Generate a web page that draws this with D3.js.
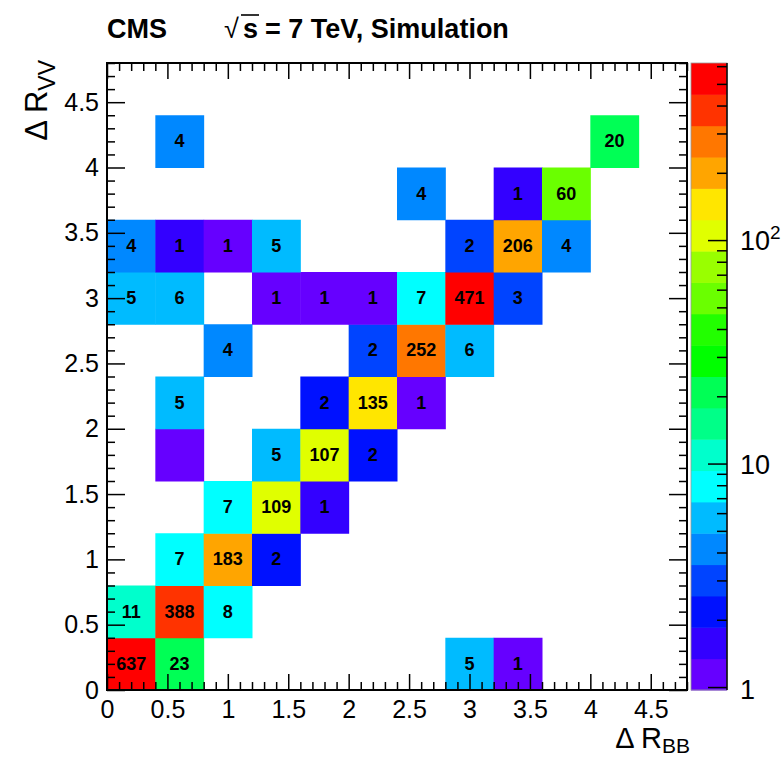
<!DOCTYPE html>
<html lang="en">
<head>
    <meta charset="UTF-8">
    <title>CMS Delta R VV vs Delta R BB</title>
    <script src="https://d3js.org/d3.v7.min.js"></script>
    <style>
        body { margin: 0; background: #fff; }
        svg { display: block; font-family: "Liberation Sans", Arial, Helvetica, sans-serif; }
        .tick line { stroke: #000; stroke-width: 1.5; }
    </style>
</head>
<body>
    <div id="chart"></div>

    <script>
        // bin lower edges (x = Delta R_BB, y = Delta R_VV) and bin contents
        const binWidth = 0.4;
        const cellX = [0, 0.4, 2.8, 3.2,
                       0, 0.4, 0.8,
                       0.4, 0.8, 1.2,
                       0.8, 1.2, 1.6,
                       0.4, 1.2, 1.6, 2.0,
                       0.4, 1.6, 2.0, 2.4,
                       0.8, 2.0, 2.4, 2.8,
                       0, 0.4, 1.2, 1.6, 2.0, 2.4, 2.8, 3.2,
                       0, 0.4, 0.8, 1.2, 2.8, 3.2, 3.6,
                       2.4, 3.2, 3.6,
                       0.4, 4.0];
        const cellY = [0, 0, 0, 0,
                       0.4, 0.4, 0.4,
                       0.8, 0.8, 0.8,
                       1.2, 1.2, 1.2,
                       1.6, 1.6, 1.6, 1.6,
                       2.0, 2.0, 2.0, 2.0,
                       2.4, 2.4, 2.4, 2.4,
                       2.8, 2.8, 2.8, 2.8, 2.8, 2.8, 2.8, 2.8,
                       3.2, 3.2, 3.2, 3.2, 3.2, 3.2, 3.2,
                       3.6, 3.6, 3.6,
                       4.0, 4.0];
        const cellZ = [637.5, 23.4, 5.3, 1.2,
                       11.4, 388.5, 8.4,
                       7.5, 183.5, 2.3,
                       7.4, 109.5, 1.6,
                       0.98, 5.4, 107.4, 2.3,
                       5.4, 2.3, 135.5, 1.2,
                       4.3, 2.8, 252.5, 6.3,
                       5.4, 6.3, 1.2, 1.2, 1.2, 7.5, 471.5, 3.2,
                       4.3, 1.6, 1.2, 5.4, 2.8, 206.5, 4.3,
                       4.3, 1.6, 60.5,
                       4.3, 20.5];

        const xMajor = [0, 0.5, 1, 1.5, 2, 2.5, 3, 3.5, 4, 4.5];
        const yMajor = [0, 0.5, 1, 1.5, 2, 2.5, 3, 3.5, 4, 4.5];
        const zMajor = [1, 10, 100];
        const zMinor = [2, 3, 4, 5, 6, 7, 8, 9, 20, 30, 40, 50, 60, 70, 80, 90, 200, 300, 400, 500, 600];
        const zRange = [0.97, 620];

        // 20 contour colours, lowest first
        const palette = ["#6600ff", "#3300ff", "#0011ff", "#0044ff", "#0088ff",
                         "#00bbff", "#00ffff", "#00ffcc", "#00ff88", "#00ff55",
                         "#00ff00", "#22ff00", "#6aff00", "#99ff00", "#e0ff00",
                         "#ffe600", "#ffa500", "#ff7700", "#ff3300", "#ff0000"];

        const W = 783, H = 758;
        const pLeft = 107, pRight = 687, pTop = 63, pBottom = 690;
        const palLeft = 691, palRight = 727;

        const svg = d3.select("#chart").append("svg")
            .attr("width", W).attr("height", H);

        const x = d3.scaleLinear().domain([0, 4.8]).range([pLeft, pRight]);
        const y = d3.scaleLinear().domain([0, 4.8]).range([pBottom, pTop]);
        const z = d3.scaleLog().domain(zRange).range([pBottom, pTop]);
        const level = d3.scaleLog().domain(zRange).range([0, palette.length]);

        function colorOf(v) {
            const k = Math.max(0, Math.min(palette.length - 1, Math.floor(level(v))));
            return palette[k];
        }

        // cells
        const cells = cellZ.map((v, i) => ({ x: cellX[i], y: cellY[i], z: v }));
        svg.append("g").selectAll("rect")
            .data(cells).enter().append("rect")
            .attr("x", d => x(d.x))
            .attr("y", d => y(d.y + binWidth))
            .attr("width", d => x(d.x + binWidth) - x(d.x) + 0.5)
            .attr("height", d => y(d.y) - y(d.y + binWidth) + 0.5)
            .attr("fill", d => colorOf(d.z));

        svg.append("g").selectAll("text")
            .data(cells.filter(d => Math.floor(d.z) > 0)).enter().append("text")
            .attr("x", d => x(d.x + binWidth / 2))
            .attr("y", d => y(d.y + binWidth / 2) + 6)
            .attr("text-anchor", "middle")
            .attr("font-size", 18)
            .attr("font-weight", "bold")
            .text(d => Math.floor(d.z));

        // axes: ticks inside on all four sides
        const xMinor = d3.range(0, 49).map(i => i / 10).filter(v => Math.round(v * 10) % 5 !== 0);
        const yMinor = xMinor;
        const fmt = d => String(d);

        function styleAxis(g) {
            g.select(".domain").remove();
            g.selectAll("text").attr("font-size", 25).attr("fill", "#000");
        }

        svg.append("g").attr("transform", `translate(0,${pBottom})`)
            .call(d3.axisBottom(x).tickValues(xMajor).tickFormat(fmt).tickSizeInner(-16).tickSizeOuter(0).tickPadding(10))
            .call(styleAxis);
        svg.append("g").attr("transform", `translate(0,${pBottom})`)
            .call(d3.axisBottom(x).tickValues(xMinor).tickFormat("").tickSizeInner(-8).tickSizeOuter(0))
            .call(styleAxis);
        svg.append("g").attr("transform", `translate(0,${pTop})`)
            .call(d3.axisTop(x).tickValues(xMajor).tickFormat("").tickSizeInner(-16).tickSizeOuter(0))
            .call(styleAxis);
        svg.append("g").attr("transform", `translate(0,${pTop})`)
            .call(d3.axisTop(x).tickValues(xMinor).tickFormat("").tickSizeInner(-8).tickSizeOuter(0))
            .call(styleAxis);

        svg.append("g").attr("transform", `translate(${pLeft},0)`)
            .call(d3.axisLeft(y).tickValues(yMajor).tickFormat(fmt).tickSizeInner(-18).tickSizeOuter(0).tickPadding(8))
            .call(styleAxis);
        svg.append("g").attr("transform", `translate(${pLeft},0)`)
            .call(d3.axisLeft(y).tickValues(yMinor).tickFormat("").tickSizeInner(-8).tickSizeOuter(0))
            .call(styleAxis);
        svg.append("g").attr("transform", `translate(${pRight},0)`)
            .call(d3.axisRight(y).tickValues(yMajor).tickFormat("").tickSizeInner(-18).tickSizeOuter(0))
            .call(styleAxis);
        svg.append("g").attr("transform", `translate(${pRight},0)`)
            .call(d3.axisRight(y).tickValues(yMinor).tickFormat("").tickSizeInner(-8).tickSizeOuter(0))
            .call(styleAxis);

        // frame
        svg.append("rect")
            .attr("x", pLeft).attr("y", pTop)
            .attr("width", pRight - pLeft).attr("height", pBottom - pTop)
            .attr("fill", "none").attr("stroke", "#000").attr("stroke-width", 2);

        // colour palette
        const bands = d3.range(palette.length);
        svg.append("g").selectAll("rect")
            .data(bands).enter().append("rect")
            .attr("x", palLeft)
            .attr("y", k => z(level.invert(k + 1)))
            .attr("width", palRight - palLeft)
            .attr("height", k => z(level.invert(k)) - z(level.invert(k + 1)) + 0.5)
            .attr("fill", k => palette[k]);
        svg.append("rect")
            .attr("x", palLeft).attr("y", pTop)
            .attr("width", palRight - palLeft).attr("height", pBottom - pTop)
            .attr("fill", "none").attr("stroke", "#999").attr("stroke-width", 0.8);
        svg.append("line")
            .attr("x1", palRight).attr("x2", palRight).attr("y1", pTop).attr("y2", pBottom)
            .attr("stroke", "#000").attr("stroke-width", 1.5);

        svg.append("g").attr("transform", `translate(${palRight},0)`)
            .call(d3.axisRight(z).tickValues(zMajor).tickFormat("").tickSizeInner(-19).tickSizeOuter(0))
            .call(styleAxis);
        svg.append("g").attr("transform", `translate(${palRight},0)`)
            .call(d3.axisRight(z).tickValues(zMinor).tickFormat("").tickSizeInner(-10).tickSizeOuter(0))
            .call(styleAxis);

        const zl = svg.append("g").attr("font-size", 27);
        zl.append("text").attr("x", 740).attr("y", z(1) + 12).text("1");
        zl.append("text").attr("x", 740).attr("y", z(10) + 10).text("10");
        const t100 = zl.append("text").attr("x", 740).attr("y", z(100) + 10);
        t100.append("tspan").text("10");
        t100.append("tspan").attr("font-size", 19).attr("dy", -11).text("2");

        // axis titles
        const xt = svg.append("text")
            .attr("x", pRight + 3).attr("y", 748)
            .attr("text-anchor", "end").attr("font-size", 29);
        xt.append("tspan").text("\u0394 R");
        xt.append("tspan").attr("font-size", 21).attr("dy", 5).text("BB");

        const yt = svg.append("text")
            .attr("transform", `translate(47,${pTop - 3}) rotate(-90)`)
            .attr("text-anchor", "end").attr("font-size", 31);
        yt.append("tspan").text("\u0394 R");
        yt.append("tspan").attr("font-size", 23).attr("dy", 8).text("VV");

        // header
        const head = svg.append("g").attr("font-size", 27).attr("font-weight", "bold");
        head.append("text").attr("x", 107).attr("y", 38).text("CMS");
        head.append("text").attr("x", 224).attr("y", 38).attr("font-weight", "normal").text("\u221A");
        const s = head.append("text").attr("x", 243).attr("y", 38).text("s");
        const sw = s.node().getComputedTextLength();
        head.append("line")
            .attr("x1", 241).attr("x2", 243 + sw + 1)
            .attr("y1", 15).attr("y2", 15)
            .attr("stroke", "#000").attr("stroke-width", 1.6);
        head.append("text").attr("x", 243 + sw + 7).attr("y", 38).text("= 7 TeV, Simulation");
    </script>
</body>
</html>
